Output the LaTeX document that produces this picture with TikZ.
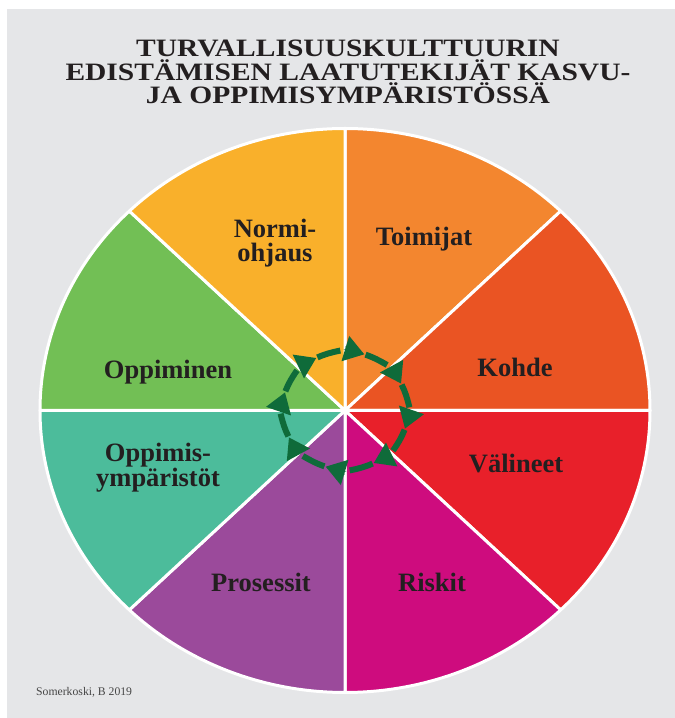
\documentclass[tikz,border=0pt]{standalone}
\usepackage{fontspec}
\setmainfont{Liberation Serif}
\newfontfamily\titlefont[FakeStretch=1.18]{Liberation Serif}
\usepackage{tikz}
\usetikzlibrary{arrows.meta}
\definecolor{panelgray}{RGB}{229, 230, 232}
\definecolor{normifill}{RGB}{249, 176, 43}
\definecolor{toimijatfill}{RGB}{243, 134, 47}
\definecolor{kohdefill}{RGB}{234, 84, 35}
\definecolor{valineetfill}{RGB}{232, 32, 42}
\definecolor{riskitfill}{RGB}{206, 12, 126}
\definecolor{prosessitfill}{RGB}{155, 74, 155}
\definecolor{ymparistofill}{RGB}{76, 188, 155}
\definecolor{oppiminenfill}{RGB}{114, 191, 85}
\definecolor{cyclegreen}{RGB}{15, 107, 58}
\definecolor{inkdark}{RGB}{35, 31, 32}
\definecolor{creditgray}{RGB}{70, 70, 70}

\begin{document}
\begin{tikzpicture}[
      x=1pt, y=1pt,
      wedge/.style={draw=white, line width=3pt, line join=round},
      sectorlabel/.style={font=\fontsize{26.5}{24}\selectfont\bfseries, text=inkdark, inner sep=0pt, align=center},
      cyclearrow/.style={draw=cyclegreen, line width=6pt, dash pattern=on 24pt off 6pt, -{Triangle[length=20pt, width=25pt]}}
    ]
      \useasboundingbox (0,0) rectangle (675,718);
      \fill[panelgray] (7,0) rectangle (675,709);

      % Title
      \node[font={\titlefont\fontsize{25}{23.5}\selectfont\bfseries}, text=inkdark, inner sep=0pt, align=center] (title) at (348,646) {TURVALLISUUSKULTTUURIN\\EDISTÄMISEN LAATUTEKIJÄT KASVU-\\JA OPPIMISYMPÄRISTÖSSÄ};

      % Wheel: eight sectors, clockwise from the top
      \coordinate (c) at (345,307.5);
      \filldraw[wedge, fill=toimijatfill] (c) -- ++(90:305 and 282) arc[start angle=90, end angle=45, x radius=305, y radius=282] -- cycle;
      \filldraw[wedge, fill=kohdefill] (c) -- ++(45:305 and 282) arc[start angle=45, end angle=0, x radius=305, y radius=282] -- cycle;
      \filldraw[wedge, fill=valineetfill] (c) -- ++(0:305 and 282) arc[start angle=0, end angle=-45, x radius=305, y radius=282] -- cycle;
      \filldraw[wedge, fill=riskitfill] (c) -- ++(-45:305 and 282) arc[start angle=-45, end angle=-90, x radius=305, y radius=282] -- cycle;
      \filldraw[wedge, fill=prosessitfill] (c) -- ++(-90:305 and 282) arc[start angle=-90, end angle=-135, x radius=305, y radius=282] -- cycle;
      \filldraw[wedge, fill=ymparistofill] (c) -- ++(-135:305 and 282) arc[start angle=-135, end angle=-180, x radius=305, y radius=282] -- cycle;
      \filldraw[wedge, fill=oppiminenfill] (c) -- ++(180:305 and 282) arc[start angle=180, end angle=135, x radius=305, y radius=282] -- cycle;
      \filldraw[wedge, fill=normifill] (c) -- ++(135:305 and 282) arc[start angle=135, end angle=90, x radius=305, y radius=282] -- cycle;

      % Sector labels
      \node[sectorlabel, anchor=base] (toimijat) at (424,472) {Toimijat};
      \node[sectorlabel, anchor=base] (kohde) at (515,341) {Kohde};
      \node[sectorlabel, anchor=base] (valineet) at (516,245) {Välineet};
      \node[sectorlabel, anchor=base] (riskit) at (432,126) {Riskit};
      \node[sectorlabel, anchor=base] (prosessit) at (261,126) {Prosessit};
      \node[sectorlabel] (ymparistot) at (158,250.7) {Oppimis-\\ympäristöt};
      \node[sectorlabel, anchor=base] (oppiminen) at (168,339) {Oppiminen};
      \node[sectorlabel] (normi) at (275,475.3) {Normi-\\ohjaus};

      % Dashed cycle in the middle, arrows turning clockwise
      \draw[cyclearrow] (c) ++(116:63 and 59) arc[start angle=116, end angle=72, x radius=63, y radius=59];
      \draw[cyclearrow] (c) ++(71:63 and 59) arc[start angle=71, end angle=27, x radius=63, y radius=59];
      \draw[cyclearrow] (c) ++(26:63 and 59) arc[start angle=26, end angle=-18, x radius=63, y radius=59];
      \draw[cyclearrow] (c) ++(-19:63 and 59) arc[start angle=-19, end angle=-63, x radius=63, y radius=59];
      \draw[cyclearrow] (c) ++(-64:63 and 59) arc[start angle=-64, end angle=-108, x radius=63, y radius=59];
      \draw[cyclearrow] (c) ++(-109:63 and 59) arc[start angle=-109, end angle=-153, x radius=63, y radius=59];
      \draw[cyclearrow] (c) ++(206:63 and 59) arc[start angle=206, end angle=162, x radius=63, y radius=59];
      \draw[cyclearrow] (c) ++(161:63 and 59) arc[start angle=161, end angle=117, x radius=63, y radius=59];

      % Source
      \node[font=\fontsize{11.7}{14}\selectfont, text=creditgray, anchor=base west, inner sep=0pt] (credit) at (36,22) {Somerkoski, B 2019};
    \end{tikzpicture}
\end{document}
